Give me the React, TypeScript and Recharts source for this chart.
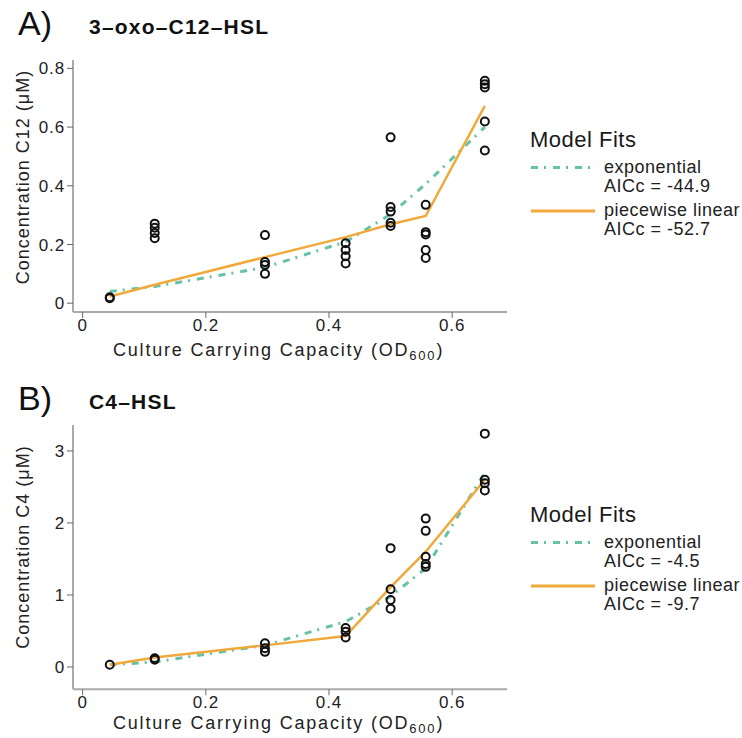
import { ComposedChart, Line, Scatter, XAxis, YAxis } from "recharts";

const FONT = '"Liberation Sans", Arial, sans-serif';
const TEAL = "#66c2a5";
const ORANGE = "#f0a93a";
const DASH = "7 6 2 7";

// culture carrying capacity (OD600) of each strain group
const od = [0.044, 0.117, 0.296, 0.427, 0.5, 0.557, 0.653];
const xTicks = [0, 0.2, 0.4, 0.6];

// 3-oxo-C12-HSL replicates per OD, and the two fitted models
const c12Reps = [
  [0.017, 0.02],
  [0.271, 0.257, 0.239, 0.221],
  [0.232, 0.14, 0.13, 0.1],
  [0.204, 0.181, 0.16, 0.135],
  [0.565, 0.328, 0.312, 0.274, 0.263],
  [0.335, 0.242, 0.234, 0.181, 0.154],
  [0.758, 0.746, 0.735, 0.619, 0.52],
];
const c12Exp = [0.04, 0.057, 0.122, 0.209, 0.303, 0.406, 0.6];
const c12Pw = [0.023, 0.063, 0.157, 0.225, 0.269, 0.297, 0.672];
const c12Ticks = [0, 0.2, 0.4, 0.6, 0.8];
const c12Aicc = ["-44.9", "-52.7"];

// C4-HSL
const c4Reps = [
  [0.03],
  [0.12, 0.1],
  [0.33, 0.26, 0.21],
  [0.54, 0.49, 0.41],
  [1.65, 1.08, 0.93, 0.81],
  [2.06, 1.89, 1.53, 1.43, 1.39],
  [3.24, 2.6, 2.55, 2.45],
];
const c4Exp = [0.03, 0.07, 0.3, 0.63, 0.98, 1.37, 2.7];
const c4Pw = [0.03, 0.13, 0.3, 0.43, 1.11, 1.6, 2.6];
const c4Ticks = [0, 1, 2, 3];
const c4Aicc = ["-4.5", "-9.7"];

const toFits = (exp: number[], pw: number[]) => od.map((x, i) => ({ x, exp: exp[i], pw: pw[i] }));
const toPoints = (reps: number[][]) => reps.flatMap((ys, i) => ys.map((y) => ({ x: od[i], y })));

const Ring = (p: any) => <circle cx={p.cx} cy={p.cy} r={4} fill="none" stroke="#111" strokeWidth={2} />;

type PanelProps = {
  top: number;
  height: number;
  plotTop: number;
  plotBottom: number;
  yDomain: [number, number];
  yTicks: number[];
  fits: { x: number; exp: number; pw: number }[];
  points: { x: number; y: number }[];
};

function Panel({ top, height, plotTop, plotBottom, yDomain, yTicks, fits, points }: PanelProps) {
  const tick = { fill: "#222", fontSize: 17, fontFamily: FONT, letterSpacing: 0.9 };
  return (
    <div style={{ position: "absolute", left: 0, top }}>
      <ComposedChart
        width={742}
        height={height}
        data={fits}
        margin={{ top: plotTop, right: 235, bottom: height - plotBottom - 40, left: 13 }}
      >
        <XAxis
          dataKey="x"
          type="number"
          domain={[-0.0157, 0.689]}
          allowDataOverflow
          ticks={xTicks}
          height={40}
          tick={tick}
          tickSize={6}
          tickMargin={1}
          axisLine={{ stroke: "#aaa", strokeWidth: 2 }}
          tickLine={{ stroke: "#666" }}
        />
        <YAxis
          type="number"
          domain={yDomain}
          allowDataOverflow
          ticks={yTicks}
          width={60}
          tick={tick}
          tickSize={6}
          tickMargin={2}
          axisLine={{ stroke: "#aaa", strokeWidth: 2 }}
          tickLine={{ stroke: "#666" }}
        />
        <Line
          type="linear"
          dataKey="exp"
          stroke={TEAL}
          strokeWidth={3}
          strokeDasharray={DASH}
          dot={false}
          activeDot={false}
          isAnimationActive={false}
        />
        <Line
          type="linear"
          dataKey="pw"
          stroke={ORANGE}
          strokeWidth={2.5}
          dot={false}
          activeDot={false}
          isAnimationActive={false}
        />
        <Scatter data={points} dataKey="y" shape={Ring} isAnimationActive={false} />
      </ComposedChart>
    </div>
  );
}

function LegendBlock({ y, aicc }: { y: number; aicc: string[] }) {
  return (
    <g fontFamily={FONT} letterSpacing={0.5}>
      <text x={530} y={y} fontSize={22} fill="#1a1a1a">Model Fits</text>
      <line x1={531} x2={595} y1={y + 20.5} y2={y + 20.5} stroke={TEAL} strokeWidth={3} strokeDasharray={DASH} />
      <text x={604} y={y + 25.5} fontSize={18} fill="#222">exponential</text>
      <text x={604} y={y + 44.5} fontSize={18} fill="#222">AICc = {aicc[0]}</text>
      <line x1={531} x2={595} y1={y + 64} y2={y + 64} stroke={ORANGE} strokeWidth={3} />
      <text x={604} y={y + 69} fontSize={18} fill="#222">piecewise linear</text>
      <text x={604} y={y + 88} fontSize={18} fill="#222">AICc = {aicc[1]}</text>
    </g>
  );
}

type TextsProps = {
  dy: number;
  letter: string;
  title: string;
  yLabel: string;
  yMid: number;
  xLabelY: number;
  aicc: string[];
};

function Texts({ dy, letter, title, yLabel, yMid, xLabelY, aicc }: TextsProps) {
  return (
    <g fontFamily={FONT}>
      <text x={18} y={35 + dy} fontSize={34} fill="#111">{letter}</text>
      <text x={89} y={34 + dy} fontSize={21} fontWeight="bold" fill="#111" letterSpacing={1.2}>{title}</text>
      <text x={113} y={xLabelY} fontSize={18} fill="#222" letterSpacing={1.8}>
        Culture Carrying Capacity (OD<tspan fontSize={13} dy={4}>600</tspan><tspan dy={-4}>)</tspan>
      </text>
      <text
        x={29}
        y={yMid}
        fontSize={18}
        fill="#222"
        letterSpacing={1}
        textAnchor="middle"
        transform={`rotate(-90 29 ${yMid})`}
      >
        {yLabel}
      </text>
      <LegendBlock y={147 + dy} aicc={aicc} />
    </g>
  );
}

export default function App() {
  return (
    <div style={{ position: "absolute", left: 0, top: 0, width: 742, height: 738, background: "#fff" }}>
      <Panel
        top={0}
        height={370}
        plotTop={60}
        plotBottom={312}
        yDomain={[-0.03, 0.8285]}
        yTicks={c12Ticks}
        fits={toFits(c12Exp, c12Pw)}
        points={toPoints(c12Reps)}
      />
      <Panel
        top={371}
        height={367}
        plotTop={54}
        plotBottom={318.3}
        yDomain={[-0.31, 3.36]}
        yTicks={c4Ticks}
        fits={toFits(c4Exp, c4Pw)}
        points={toPoints(c4Reps)}
      />
      <svg width={742} height={738} style={{ position: "absolute", left: 0, top: 0, pointerEvents: "none" }}>
        <Texts dy={0} letter="A)" title="3–oxo–C12–HSL" yLabel="Concentration C12 (μM)" yMid={177} xLabelY={356} aicc={c12Aicc} />
        <Texts dy={375} letter="B)" title="C4–HSL" yLabel="Concentration C4 (μM)" yMid={547} xLabelY={729} aicc={c4Aicc} />
      </svg>
    </div>
  );
}
